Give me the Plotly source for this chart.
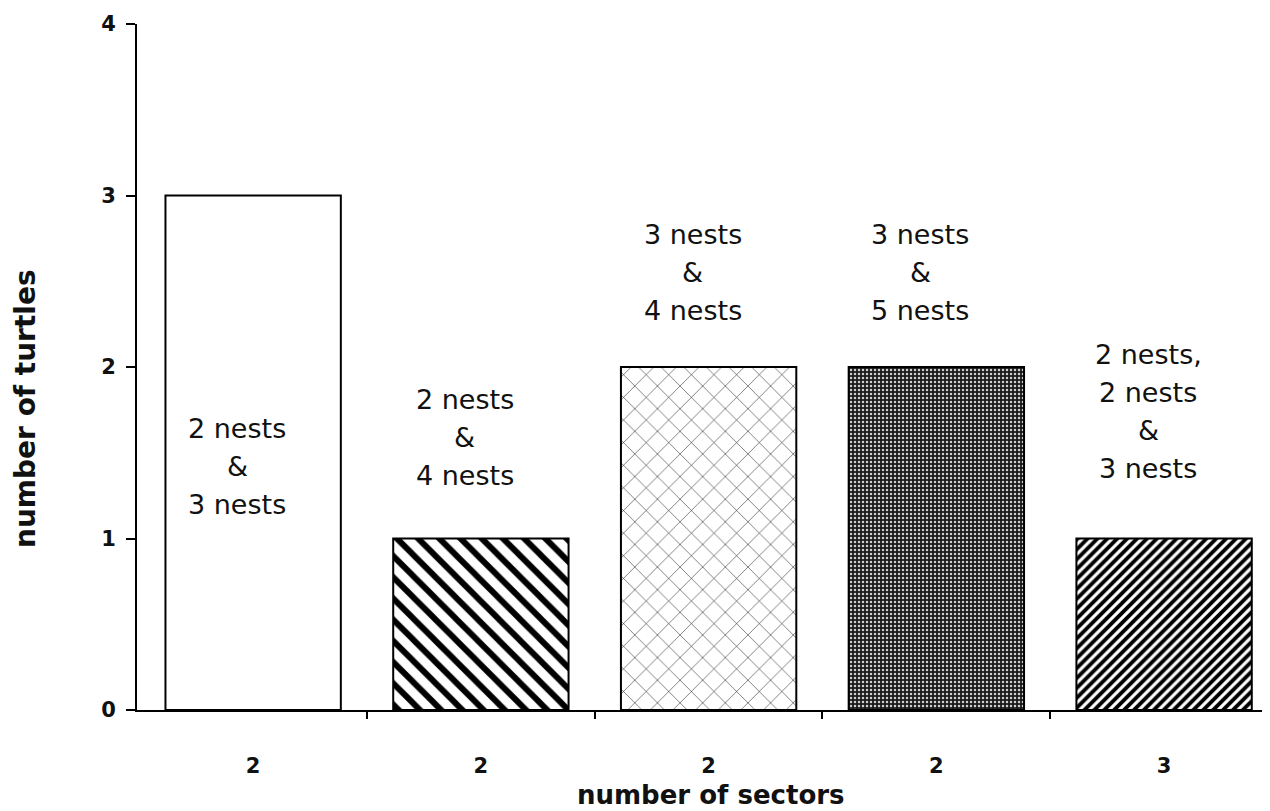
import plotly.graph_objects as go

# ---- data ----
positions = [0, 1, 2, 3, 4]
sector_labels = ["2", "2", "2", "2", "3"]
turtles = [3, 1, 2, 2, 1]
nest_labels = [
    ["2 nests", "&", "3 nests"],
    ["2 nests", "&", "4 nests"],
    ["3 nests", "&", "4 nests"],
    ["3 nests", "&", "5 nests"],
    ["2 nests,", "2 nests", "&", "3 nests"],
]
label_centers = [1.42, 1.59, 2.55, 2.55, 1.74]
y_ticks = [0, 1, 2, 3, 4]

FONT = "DejaVu Sans, Liberation Sans, Arial, sans-serif"

patterns = [
    dict(shape="", bgcolor="white"),
    dict(shape="\\", fgcolor="black", fgopacity=1, bgcolor="white", size=15, solidity=0.4, fillmode="overlay"),
    dict(shape="x", fgcolor="black", fgopacity=1, bgcolor="white", size=16, solidity=0.06, fillmode="overlay"),
    dict(shape=".", fgcolor="#d0d0d0", fgopacity=1, bgcolor="#1a1a1a", size=4, solidity=0.3, fillmode="overlay"),
    dict(shape="/", fgcolor="black", fgopacity=1, bgcolor="white", size=7, solidity=0.55, fillmode="overlay"),
]

fig = go.Figure()
for i in range(len(positions)):
    fig.add_trace(go.Bar(
        x=[positions[i]], y=[turtles[i]], width=0.77,
        marker=dict(color="white", line=dict(color="black", width=2), pattern=patterns[i]),
        showlegend=False, hoverinfo="skip",
    ))

# page has an 8px body margin; figure coords = page coords - 8
OFF = 8
W, H = 1262, 803
L, R, T, B = 137 - OFF, 0, 24 - OFF, 101
plot_top, plot_bottom = T, H - B

def py_to_paper(page_y):
    return (plot_bottom - (page_y - OFF)) / (plot_bottom - plot_top)

def px_to_paper(page_x):
    return ((page_x - OFF) - L) / (W - L - R)

annotations = []
line_px = 38
for i, lines in enumerate(nest_labels):
    n = len(lines)
    for j, t in enumerate(lines):
        offset = ((n - 1) / 2 - j) * line_px
        annotations.append(dict(
            x=positions[i], y=label_centers[i], xref="x", yref="y",
            text=t, showarrow=False, yshift=offset, xshift=-16,
            font=dict(family=FONT, size=27, color="#111"),
        ))

annotations.append(dict(
    x=px_to_paper(711), xref="paper", y=py_to_paper(795), yref="paper",
    xanchor="center", yanchor="middle",
    text="number of sectors", showarrow=False,
    font=dict(family=FONT, size=26, color="#111", weight="bold"),
))
annotations.append(dict(
    x=px_to_paper(25), xref="paper", y=py_to_paper(409), yref="paper",
    xanchor="center", yanchor="middle",
    text="number of turtles", textangle=-90, showarrow=False,
    font=dict(family=FONT, size=28, color="#111", weight="bold"),
))

fig.update_layout(
    width=W, height=H,
    margin=dict(l=L, r=R, t=T, b=B, autoexpand=False),
    paper_bgcolor="white", plot_bgcolor="white",
    annotations=annotations,
    xaxis=dict(
        range=[-0.51, 4.465], tickmode="array", tickvals=positions, ticktext=sector_labels,
        ticks="", showline=True, linecolor="black", linewidth=2, showgrid=False, zeroline=False,
        automargin=False,
        tickfont=dict(family=FONT, size=21, color="#111", weight="bold"), ticklabelstandoff=36,
        minor=dict(tickmode="array", tickvals=[0.5, 1.5, 2.5, 3.5], ticks="outside",
                   ticklen=7, tickwidth=2, tickcolor="black", showgrid=False),
    ),
    yaxis=dict(
        range=[0, 4], tickmode="array", tickvals=y_ticks, ticks="outside", ticklen=9,
        tickwidth=2, tickcolor="black", showline=True, linecolor="black", linewidth=2,
        showgrid=False, zeroline=False, automargin=False, ticklabelstandoff=6,
        tickfont=dict(family=FONT, size=21, color="#111", weight="bold"),
    ),
)

fig.write_html("out.html")
